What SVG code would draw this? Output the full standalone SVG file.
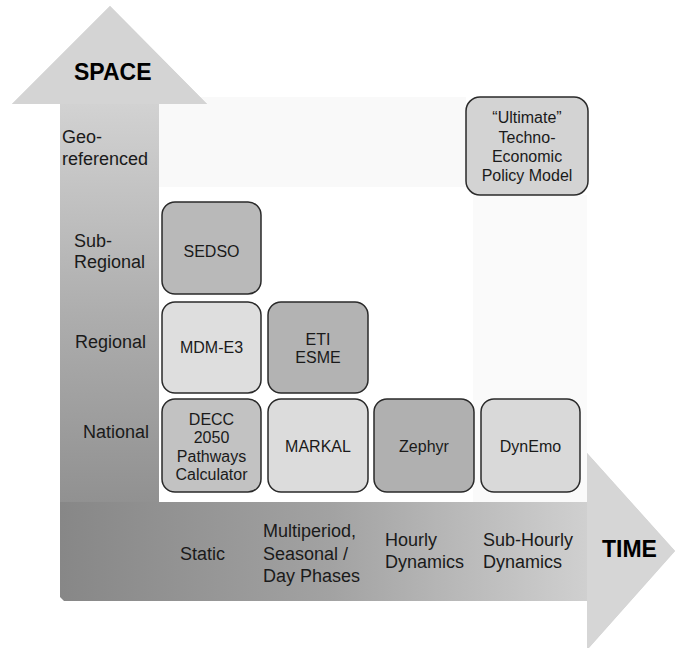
<svg xmlns="http://www.w3.org/2000/svg" width="675" height="648" viewBox="0 0 675 648">
<defs>
<linearGradient id="gv" x1="0" y1="104" x2="0" y2="502" gradientUnits="userSpaceOnUse">
<stop offset="0" stop-color="#d2d2d2"/>
<stop offset="0.55" stop-color="#acacac"/>
<stop offset="1" stop-color="#919191"/>
</linearGradient>
<linearGradient id="gh" x1="60" y1="0" x2="600" y2="0" gradientUnits="userSpaceOnUse">
<stop offset="0" stop-color="#878787"/>
<stop offset="0.5" stop-color="#a2a2a2"/>
<stop offset="1" stop-color="#d2d2d2"/>
</linearGradient>
<style>
.node{stroke:#2a2a2a;stroke-width:1.5}
.nt{font-family:"Liberation Sans",Arial,sans-serif;font-size:16px;fill:#1a1a1a;text-anchor:middle}
.lb{font-family:"Liberation Sans",Arial,sans-serif;font-size:18px;fill:#1a1a1a}
.ax{font-family:"Liberation Sans",Arial,sans-serif;font-size:23px;font-weight:bold;fill:#000}
</style>
</defs>
<rect width="675" height="648" fill="#fff"/>
<g id="backdrop">
<rect x="159" y="97" width="307" height="90" fill="#f9f9f9"/>
<rect x="473" y="195" width="114" height="307" fill="#fafafa"/>
</g>
<g id="connectors">
<polygon id="time-arrow" points="60,502 587,502 587,453 675,551 587,650 587,601 64,601 60,597" fill="url(#gh)"/>
<polygon id="space-arrow" points="60,502 60,104 12,104 110,6 207,104 159,104 159,502" fill="url(#gv)"/>
<polygon points="587,453 675,551 587,650" fill="#d6d6d6"/>
<polygon points="12,104 110,6 207,104" fill="#d4d4d4"/>
</g>
<g id="axis-labels">
<text class="ax" x="74" y="80">SPACE</text>
<text class="ax" x="602" y="557">TIME</text>
<text class="lb" x="62" y="143">Geo-</text>
<text class="lb" x="62" y="165">referenced</text>
<text class="lb" x="74" y="247">Sub-</text>
<text class="lb" x="74" y="268">Regional</text>
<text class="lb" x="75" y="348">Regional</text>
<text class="lb" x="83" y="438">National</text>
<text class="lb" x="180" y="560">Static</text>
<text class="lb" x="263" y="537">Multiperiod,</text>
<text class="lb" x="263" y="560">Seasonal /</text>
<text class="lb" x="263" y="582">Day Phases</text>
<text class="lb" x="385" y="546">Hourly</text>
<text class="lb" x="385" y="568">Dynamics</text>
<text class="lb" x="483" y="546">Sub-Hourly</text>
<text class="lb" x="483" y="568">Dynamics</text>
</g>
<g id="sedso">
<rect class="node" x="162" y="202" width="99" height="92" rx="13" fill="#b9b9b9"/>
<text class="nt" x="211.5" y="257">SEDSO</text>
</g>
<g id="mdm-e3">
<rect class="node" x="162" y="302" width="99" height="91" rx="13" fill="#dedede"/>
<text class="nt" x="211.5" y="353">MDM-E3</text>
</g>
<g id="eti-esme">
<rect class="node" x="268" y="302" width="100" height="91" rx="13" fill="#b3b3b3"/>
<text class="nt" x="318" y="345">ETI</text>
<text class="nt" x="318" y="363">ESME</text>
</g>
<g id="decc">
<rect class="node" x="162" y="399" width="99" height="93" rx="13" fill="#c2c2c2"/>
<text class="nt" x="211.5" y="425">DECC</text>
<text class="nt" x="211.5" y="443">2050</text>
<text class="nt" x="211.5" y="462">Pathways</text>
<text class="nt" x="211.5" y="480">Calculator</text>
</g>
<g id="markal">
<rect class="node" x="268" y="399" width="100" height="93" rx="13" fill="#dcdcdc"/>
<text class="nt" x="318" y="452">MARKAL</text>
</g>
<g id="zephyr">
<rect class="node" x="374" y="399" width="100" height="93" rx="13" fill="#b0b0b0"/>
<text class="nt" x="424" y="452">Zephyr</text>
</g>
<g id="dynemo">
<rect class="node" x="481" y="399" width="99" height="93" rx="13" fill="#d9d9d9"/>
<text class="nt" x="530.5" y="452">DynEmo</text>
</g>
<g id="ultimate">
<rect class="node" x="466" y="97" width="122" height="98" rx="14" fill="#d3d3d3"/>
<text class="nt" x="527" y="123">“Ultimate”</text>
<text class="nt" x="527" y="143">Techno-</text>
<text class="nt" x="527" y="162">Economic</text>
<text class="nt" x="527" y="181">Policy Model</text>
</g>
</svg>
